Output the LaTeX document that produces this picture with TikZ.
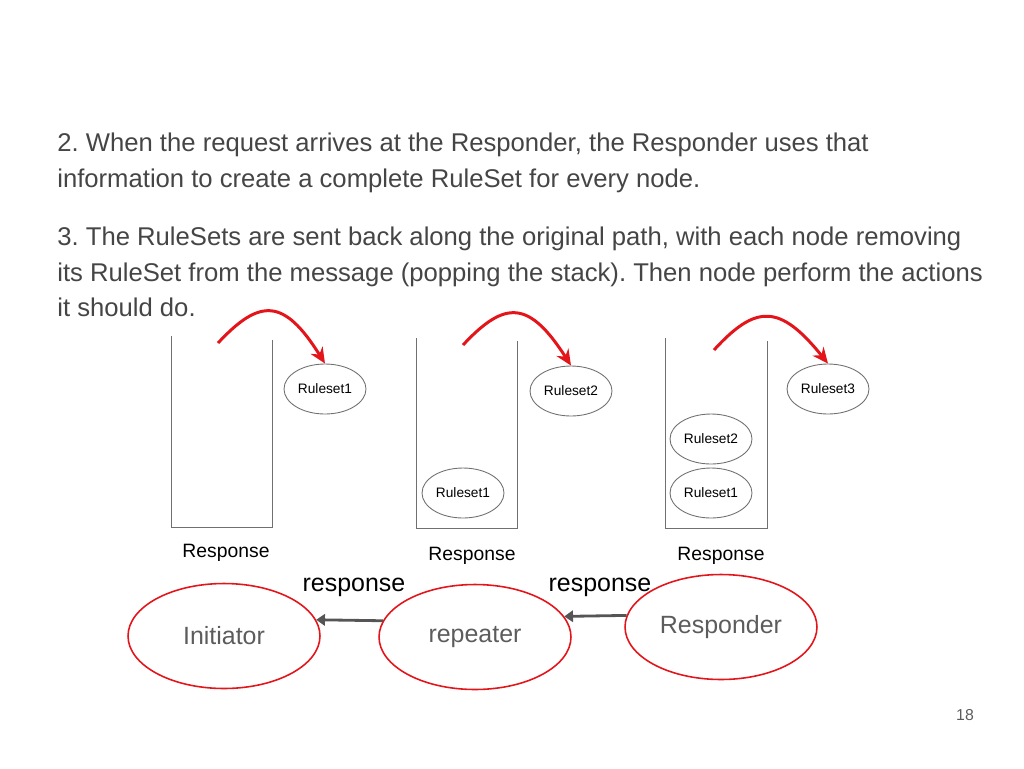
\documentclass[tikz,border=0pt]{standalone}
\usepackage{fontspec}
\setmainfont{Liberation Sans}
\usepackage{xcolor}
\usepackage{tikz}
\usetikzlibrary{positioning,shapes.geometric,arrows.meta}
\definecolor{slidered}{HTML}{E3151B}
\definecolor{bodygray}{HTML}{454545}
\definecolor{labelgray}{HTML}{5C5C5C}
\definecolor{linegray}{HTML}{707070}
\definecolor{arrowgray}{HTML}{555555}
\frenchspacing
\tikzset{
    body/.style={anchor=north west, inner sep=0pt, align=left, text=bodygray, font=\fontsize{14.6}{20.2}\selectfont},
    stackline/.style={draw=linegray, line width=0.55pt},
    ruleset/.style={ellipse, draw=linegray, line width=0.5pt, minimum width=1.64cm, minimum height=1cm, inner sep=0pt, font=\fontsize{7.8}{9}\selectfont},
    peer/.style={ellipse, draw=slidered, line width=0.9pt, minimum width=3.84cm, minimum height=2.1cm, text=labelgray, font=\fontsize{14.2}{17}\selectfont},
    hop/.style={-{Stealth[length=9pt,width=8pt]}, draw=slidered, line width=1.7pt},
    reply/.style={-{Triangle[length=5pt,width=6.5pt]}, draw=arrowgray, line width=1.6pt},
    stacktag/.style={font=\fontsize{11}{13}\selectfont},
    msg/.style={font=\fontsize{14.2}{17}\selectfont}
}

\begin{document}
\begin{tikzpicture}[x=0.02cm, y=-0.02cm]
\useasboundingbox (0,0) rectangle (1024,768);

% explanation text
\node[body] (step2) at (57,133) {2. When the request arrives at the Responder, the Responder uses that\\information to create a complete RuleSet for every node.};
\node[body] (step3) at (57,227) {3. The RuleSets are sent back along the original path, with each node removing\\its RuleSet from the message (popping the stack). Then node perform the actions\\it should do.};

% stacks
\draw[stackline] (171,336) -- (171,527) -- (272,527) -- (272,340);
\draw[stackline] (416,338) -- (416,528) -- (517,528) -- (517,341);
\draw[stackline] (665,338) -- (665,528) -- (767,528) -- (767,341);

% popped rulesets
\node[ruleset] (pop1) at (325,389) {Ruleset1};
\node[ruleset] (pop2) at (571,391) {Ruleset2};
\node[ruleset] (pop3) at (828,389) {Ruleset3};

% rulesets left on the stacks
\node[ruleset] (rep1) at (463,493) {Ruleset1};
\node[ruleset] (resp1) at (711,493) {Ruleset1};
\node[ruleset] (resp2) at (711,439) {Ruleset2};

% popping arrows
\coordinate (hop1s) at (218,343);
\coordinate (hop2s) at (463,345);
\coordinate (hop3s) at (714,350);
\draw[hop] (hop1s) .. controls (260,298) and (284,298) .. (pop1.north);
\draw[hop] (hop2s) .. controls (505,300) and (529,300) .. (pop2.north);
\draw[hop] (hop3s) .. controls (756,304) and (780,304) .. (pop3.north);

\node[stacktag] (tag1) at (226,553) {Response};
\node[stacktag] (tag2) at (472,556) {Response};
\node[stacktag] (tag3) at (721,556) {Response};

% nodes on the path
\node[peer] (init) at (224,636) {Initiator};
\node[peer] (rep) at (475,637) {repeater};
\node[peer] (resp) at (721,627) {Responder};

\node[msg] (msg1) at (354,587) {response};
\node[msg] (msg2) at (600,587) {response};

\draw[reply] (rep.170) -- (init.10);
\draw[reply] (resp.173) -- (rep.13);

\node[text=labelgray, font=\fontsize{9}{11}\selectfont] (page) at (965,715) {18};

\end{tikzpicture}
\end{document}
